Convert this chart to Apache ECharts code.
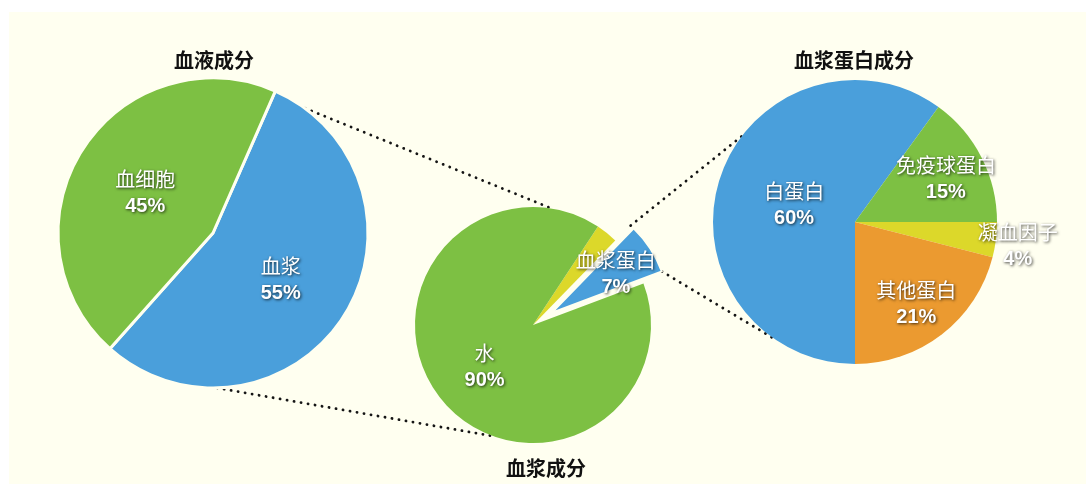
<!DOCTYPE html>
<html><head><meta charset="utf-8">
<script src="https://cdn.jsdelivr.net/npm/echarts@6/dist/echarts.min.js"></script>
<style>html,body{margin:0;padding:0;background:#fffff0;overflow:hidden;}#c{width:1086px;height:484px;}</style>
</head><body><div id="c"></div>
<script>
// ---- data ----
const bloodNames = ['血浆', '血细胞'];
const bloodValues = [55, 45];
const plasmaNames = ['其他', '血浆蛋白', '水'];
const plasmaValues = [3, 7, 90];
const proteinNames = ['白蛋白', '免疫球蛋白', '凝血因子', '其他蛋白'];
const proteinValues = [60, 15, 4, 21];
const titles = ['血液成分', '血浆成分', '血浆蛋白成分'];

// ---- layout ----
const BG = '#fffff0';
const GREEN = '#7dc043', BLUE = '#4a9fdb', YELLOW = '#dcd82a', ORANGE = '#eb9a30';
const L = {c: [213, 233], r: 155, start: 66.3};
const M = {c: [533, 325], r: 118, start: 56.6, off: 22};
const R = {c: [855, 222], r: 142, start: 270};
const labelShift = {
  0: [0, 0],
  1: [0, 15, 0],
  2: [-10, 28, 90, 26]
};

function midTop(values, start, i) {
  const total = values.reduce((a, b) => a + b, 0);
  let cum = 0;
  for (let k = 0; k < i; k++) cum += values[k];
  return (90 - start) + (cum + values[i] / 2) / total * 360;
}
function pt(c, r, aTop) {
  const a = aTop * Math.PI / 180;
  return [c[0] + r * Math.sin(a), c[1] - r * Math.cos(a)];
}
const seriesVals = [bloodValues, plasmaValues, proteinValues];
const seriesStart = [L.start, M.start, R.start];
function layoutFn(si) {
  return function (p) {
    const s = (labelShift[si] || [])[p.dataIndex] || 0;
    const a = midTop(seriesVals[si], seriesStart[si], p.dataIndex) * Math.PI / 180;
    return {dx: s * Math.sin(a), dy: -s * Math.cos(a) + 3};
  };
}

const shadow = {textShadowColor: 'rgba(0,0,0,0.75)', textShadowBlur: 3, textShadowOffsetX: 1, textShadowOffsetY: 1};
const labelBase = Object.assign({
  show: true,
  position: 'inside',
  formatter: function (p) { return p.dataIndex === 0 && p.seriesIndex === 1 ? '' : '{n|' + p.name + '}\n{p|' + p.value + '%}'; },
  color: '#fff',
  rich: {
    n: Object.assign({fontSize: 20, fontFamily: 'Noto Sans CJK SC', color: '#fff', lineHeight: 27}, shadow),
    p: Object.assign({fontSize: 20, fontWeight: 'bold', fontFamily: 'Liberation Sans', color: '#fff', lineHeight: 27}, shadow)
  }
}, shadow);

const chart = echarts.init(document.getElementById('c'), null, {renderer: 'canvas'});

// connectors
const dotStyle = {stroke: '#151515', lineWidth: 2.8, lineDash: [0.1, 7], lineCap: 'round'};
const blueA0 = (90 - M.start) + plasmaValues[0] / 100 * 360;
const blueA1 = blueA0 + plasmaValues[1] / 100 * 360;
const blueMid = (blueA0 + blueA1) / 2;
const apex = pt(M.c, M.off, blueMid);
const lines = [
  [pt(L.c, L.r, 36.4), pt(M.c, M.r, 9.1)],
  [pt(L.c, L.r, 178.5), pt(M.c, M.r, 199.6)],
  [pt(apex, M.r, blueA0 - 2), pt(R.c, R.r, 307.3)],
  [pt(apex, M.r, blueA1), pt(R.c, R.r, 214.8)]
];

const graphics = [
  {type: 'rect', z: -10, silent: true, shape: {x: 0, y: 0, width: 1086, height: 12}, style: {fill: '#ffffff'}},
  {type: 'rect', z: -10, silent: true, shape: {x: 0, y: 0, width: 9, height: 484}, style: {fill: '#ffffff'}}
].concat(lines.map(l => ({type: 'line', z: -1, silent: true,
    shape: {x1: l[0][0], y1: l[0][1], x2: l[1][0], y2: l[1][1]}, style: dotStyle})));

chart.setOption({
  backgroundColor: BG,
  animation: false,
  title: [
    {text: titles[0], left: 209, top: 45, textAlign: 'center'},
    {text: titles[1], left: 541, top: 453, textAlign: 'center'},
    {text: titles[2], left: 849, top: 45, textAlign: 'center'}
  ].map(t => Object.assign(t, {textStyle: {fontSize: 20, fontWeight: 'bold', color: '#111', fontFamily: 'Noto Sans CJK SC'}})),
  graphic: graphics,
  series: [
    {
      type: 'pie', center: L.c, radius: L.r, startAngle: L.start, clockwise: true,
      itemStyle: {borderColor: BG, borderWidth: 3},
      label: labelBase, labelLine: {show: false}, labelLayout: layoutFn(0),
      emphasis: {disabled: true},
      data: bloodNames.map((n, i) => ({name: n, value: bloodValues[i], itemStyle: {color: [BLUE, GREEN][i]}}))
    },
    {
      type: 'pie', center: M.c, radius: M.r, startAngle: M.start, clockwise: true,
      selectedMode: 'single', selectedOffset: M.off,
      label: labelBase, labelLine: {show: false}, labelLayout: layoutFn(1),
      emphasis: {disabled: true},
      data: plasmaNames.map((n, i) => ({name: n, value: plasmaValues[i], selected: i === 1,
        itemStyle: i === 1 ? {color: BLUE, borderColor: BG, borderWidth: 2} : {color: [YELLOW, BLUE, GREEN][i]}}))
    },
    {
      type: 'pie', center: R.c, radius: R.r, startAngle: R.start, clockwise: true,
      label: labelBase, labelLine: {show: false}, labelLayout: layoutFn(2),
      emphasis: {disabled: true},
      data: proteinNames.map((n, i) => ({name: n, value: proteinValues[i], itemStyle: {color: [BLUE, GREEN, YELLOW, ORANGE][i]}}))
    }
  ]
});
</script>
</body></html>
